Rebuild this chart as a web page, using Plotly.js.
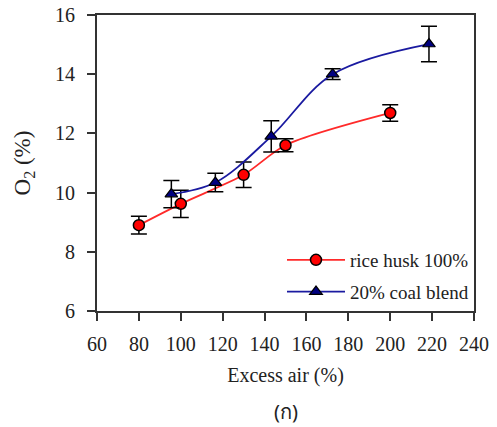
<!DOCTYPE html>
<html>
<head>
<meta charset="utf-8">
<script src="https://cdn.plot.ly/plotly-3.0.1.min.js"></script>
<style>html,body{margin:0;padding:0;background:#fff;}#chart{width:497px;height:427px;}</style>
</head>
<body>
<div id="chart"></div>
<script>
const riceX = [80, 100, 130, 150, 200];
const riceY = [8.9, 9.62, 10.6, 11.6, 12.69];
const riceErr = [0.3, 0.46, 0.43, 0.22, 0.28];

const coalX = [95.5, 116.5, 143.2, 172.5, 218.5];
const coalY = [9.95, 10.34, 11.9, 14.0, 15.02];
const coalErr = [0.46, 0.31, 0.53, 0.18, 0.6];

const seriesNames = ['rice husk 100%', '20% coal blend'];
const xTicks = [60, 80, 100, 120, 140, 160, 180, 200, 220, 240];
const yTicks = [6, 8, 10, 12, 14, 16];

const serif = 'Liberation Serif, Times New Roman, serif';

const traces = [
  {
    x: riceX, y: riceY, name: seriesNames[0], type: 'scatter', mode: 'lines+markers',
    legendgroup: 'a',
    line: {color: '#ff2a2a', width: 1.8, shape: 'spline', smoothing: 0.8},
    marker: {symbol: 'circle', size: 11, color: '#ff0000', line: {color: '#000', width: 1.5}},
    error_y: {type: 'data', array: riceErr, visible: true, color: '#000', thickness: 1.5, width: 8}
  },
  {
    x: coalX, y: coalY, name: seriesNames[1], type: 'scatter', mode: 'lines+markers',
    legendgroup: 'b',
    line: {color: '#1a1aa0', width: 1.8, shape: 'spline', smoothing: 1},
    marker: {symbol: 'triangle-up', size: 11, color: '#000080', line: {color: '#000', width: 1.2}},
    error_y: {type: 'data', array: coalErr, visible: true, color: '#000', thickness: 1.5, width: 8}
  }
];

const axisCommon = {
  showgrid: false, zeroline: false, showline: true, mirror: true,
  linecolor: '#333', linewidth: 2, ticks: 'outside', ticklen: 8, tickwidth: 2, tickcolor: '#333',
  tickfont: {family: serif, size: 20, color: '#222'}
};

const layout = {
  width: 497, height: 427,
  margin: {l: 97, r: 23, t: 15, b: 116},
  paper_bgcolor: '#fff', plot_bgcolor: '#fff',
  showlegend: true,
  xaxis: Object.assign({}, axisCommon, {
    range: [60, 240], tickvals: xTicks, ticktext: xTicks.map(String),
    ticklabelstandoff: 6,
    title: {text: 'Excess air (%)', font: {family: serif, size: 20, color: '#222'}, standoff: 14}
  }),
  yaxis: Object.assign({}, axisCommon, {
    range: [6, 16], tickvals: yTicks, ticktext: yTicks.map(String),
    ticklabelstandoff: 8,
    title: {text: 'O<sub>2</sub> (%)', font: {family: serif, size: 23, color: '#222'}, standoff: 18}
  }),
  legend: {
    x: 1, xanchor: 'right', y: 0, yanchor: 'bottom',
    bgcolor: 'rgba(0,0,0,0)', borderwidth: 0,
    font: {family: serif, size: 19, color: '#222'},
    traceorder: 'grouped', tracegroupgap: 4, itemwidth: 58
  },
  annotations: [{
    text: '(ก)', xref: 'paper', yref: 'paper', x: 0.5, y: 0, yshift: -100,
    xanchor: 'center', yanchor: 'middle', showarrow: false,
    font: {family: 'Noto Sans, sans-serif', size: 20, color: '#222'}
  }]
};

Plotly.newPlot('chart', traces, layout, {displayModeBar: false, staticPlot: true});
</script>
</body>
</html>
